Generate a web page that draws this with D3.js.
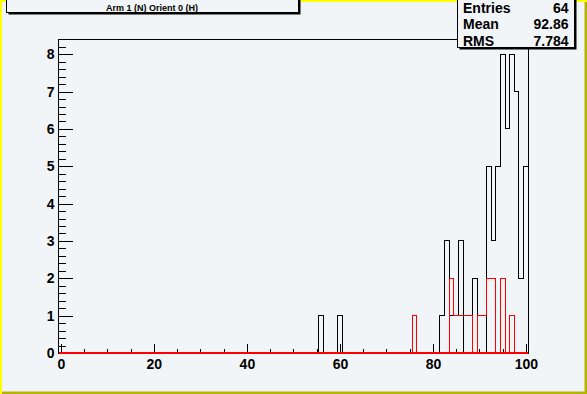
<!DOCTYPE html>
<html>
<head>
<meta charset="utf-8">
<script src="https://cdn.jsdelivr.net/npm/d3@7"></script>
<style>
    body { margin: 0; background: #f2f5f7; }
    svg { display: block; }
    .tick text { font-family: "Liberation Sans", Arial, sans-serif; font-weight: bold; font-size: 14px; fill: #000; }
    .box-text { font-family: "Liberation Sans", Arial, sans-serif; font-weight: bold; }
</style>
</head>
<body>
<div id="chart"></div>
<script>
// bins are 1 unit wide, centred on integers 0..100
var binCenters = d3.range(0, 101);

// black histogram (non-empty bins)
var blackBins = [56, 60, 82, 83, 84, 85, 86, 89, 92, 93, 94, 95, 96, 97, 98, 99, 100];
var blackCounts = [1, 1, 1, 3, 1, 1, 3, 2, 5, 3, 5, 8, 6, 8, 7, 2, 5];

// red histogram (non-empty bins)
var redBins = [76, 84, 85, 86, 87, 88, 90, 91, 92, 93, 95, 97];
var redCounts = [1, 2, 1, 1, 1, 1, 1, 1, 2, 2, 2, 1];

var xMajorTicks = [0, 20, 40, 60, 80, 100];
var yMajorTicks = [0, 1, 2, 3, 4, 5, 6, 7, 8];

var titleText = "Arm 1 (N) Orient 0 (H)";
var statLabels = ["Entries", "Mean", "RMS"];
var statValues = ["64", "92.86", "7.784"];


Hist = function(_parentElement){
    this.parentElement = _parentElement;
    this.initVis();
};

Hist.prototype.initVis = function() {
    var vis = this;
    vis.width = 587;
    vis.height = 394;
    vis.frame = {left: 58.5, right: 528.3, top: 39.3, bottom: 353};

    vis.svg = d3.select("#" + vis.parentElement).append("svg")
        .attr("width", vis.width)
        .attr("height", vis.height);

    // canvas with bevelled border
    vis.svg.append("rect").attr("width", vis.width).attr("height", vis.height).attr("fill", "#f2f5f7");
    vis.svg.append("rect").attr("x", 0).attr("y", 0).attr("width", vis.width).attr("height", 2).attr("fill", "#ffff00");
    vis.svg.append("rect").attr("x", 0).attr("y", 0).attr("width", 2).attr("height", vis.height).attr("fill", "#ffff00");
    vis.svg.append("rect").attr("x", vis.width - 2.5).attr("y", 2).attr("width", 2.5).attr("height", vis.height).attr("fill", "#b3b300");
    vis.svg.append("rect").attr("x", 2).attr("y", vis.height - 2.5).attr("width", vis.width).attr("height", 2.5).attr("fill", "#b3b300");

    vis.xScale = d3.scaleLinear()
        .domain([-0.5, 100.5])
        .range([vis.frame.left, vis.frame.right]);

    vis.yScale = d3.scaleLinear()
        .domain([0, 8.4])
        .range([vis.frame.bottom, vis.frame.top]);

    vis.line = d3.line()
        .x(function(d){ return vis.xScale(d[0]); })
        .y(function(d){ return vis.yScale(d[1]); })
        .curve(d3.curveLinear);

    vis.drawAxes();
    vis.drawHist(blackBins, blackCounts, "#000");
    vis.drawHist(redBins, redCounts, "#ff0000");
    vis.drawFrame();
    vis.drawTitle();
    vis.drawStats();
};

Hist.prototype.stepPoints = function(bins, counts) {
    var lookup = {};
    bins.forEach(function(b, i){ lookup[b] = counts[i]; });
    var pts = [[binCenters[0] - 0.5, 0]];
    binCenters.forEach(function(c){
        var v = lookup[c] || 0;
        pts.push([c - 0.5, v]);
        pts.push([c + 0.5, v]);
    });
    pts.push([binCenters[binCenters.length - 1] + 0.5, 0]);
    return pts;
};

Hist.prototype.drawHist = function(bins, counts, colour) {
    var vis = this;
    vis.svg.append("path")
        .datum(vis.stepPoints(bins, counts))
        .attr("fill", "none")
        .attr("stroke", colour)
        .attr("stroke-width", 1)
        .attr("shape-rendering", "crispEdges")
        .attr("d", vis.line);
};

Hist.prototype.drawAxes = function() {
    var vis = this;

    var xMinor = d3.range(0, 101, 5).filter(function(v){ return xMajorTicks.indexOf(v) < 0; });
    var yMinor = d3.range(0, 42).map(function(i){ return i * 0.2; })
        .filter(function(v){ return Math.abs(v - Math.round(v)) > 0.01; });

    var xG = vis.svg.append("g").attr("transform", "translate(0," + vis.frame.bottom + ")");
    xG.call(d3.axisBottom(vis.xScale).tickValues(xMinor).tickSize(-4.5).tickFormat(""));
    xG.append("g").call(d3.axisBottom(vis.xScale).tickValues(xMajorTicks).tickSize(-9).tickPadding(6).tickFormat(d3.format("d")));

    var yG = vis.svg.append("g").attr("transform", "translate(" + vis.frame.left + ",0)");
    yG.call(d3.axisLeft(vis.yScale).tickValues(yMinor).tickSize(-7).tickFormat(""));
    yG.append("g").call(d3.axisLeft(vis.yScale).tickValues(yMajorTicks).tickSize(-14).tickPadding(4).tickFormat(d3.format("d")));

    vis.svg.selectAll(".domain").remove();
    vis.svg.selectAll(".tick line").attr("stroke", "#000").attr("shape-rendering", "crispEdges");
};

Hist.prototype.drawFrame = function() {
    var vis = this;
    vis.svg.append("rect")
        .attr("x", vis.frame.left)
        .attr("y", vis.frame.top)
        .attr("width", vis.frame.right - vis.frame.left)
        .attr("height", vis.frame.bottom - vis.frame.top)
        .attr("fill", "none")
        .attr("stroke", "#000")
        .attr("shape-rendering", "crispEdges");
    // red zero line lies on top of the x axis
    vis.svg.append("line")
        .attr("x1", vis.xScale(-0.5)).attr("x2", vis.xScale(100.5))
        .attr("y1", vis.yScale(0) - 0.5).attr("y2", vis.yScale(0) - 0.5)
        .attr("stroke", "#ff0000").attr("stroke-width", 2)
        .attr("shape-rendering", "crispEdges");
};

Hist.prototype.shadowBox = function(x, y, w, h) {
    var vis = this;
    vis.svg.append("rect").attr("x", x + 2).attr("y", y + 2).attr("width", w).attr("height", h).attr("fill", "#000");
    vis.svg.append("rect").attr("x", x).attr("y", y).attr("width", w).attr("height", h)
        .attr("fill", "#f2f5f7").attr("stroke", "#000").attr("shape-rendering", "crispEdges");
};

Hist.prototype.drawTitle = function() {
    var vis = this;
    vis.shadowBox(6.5, -10, 292, 22.5);
    vis.svg.append("text")
        .attr("class", "box-text")
        .attr("x", 152).attr("y", 11.3)
        .attr("text-anchor", "middle")
        .attr("font-size", "9px")
        .text(titleText);
};

Hist.prototype.drawStats = function() {
    var vis = this;
    vis.shadowBox(457.5, -10, 117, 57.5);
    var rows = vis.svg.selectAll(".stat-row")
        .data(statLabels)
        .enter().append("g")
        .attr("class", "stat-row")
        .attr("transform", function(d, i){ return "translate(0," + (12.8 + i * 16.5) + ")"; });
    rows.append("text")
        .attr("class", "box-text").attr("font-size", "14px")
        .attr("x", 463).text(function(d){ return d; });
    rows.append("text")
        .attr("class", "box-text").attr("font-size", "14px")
        .attr("x", 568.5).attr("text-anchor", "end")
        .text(function(d, i){ return statValues[i]; });
};

new Hist("chart");
</script>
</body>
</html>
